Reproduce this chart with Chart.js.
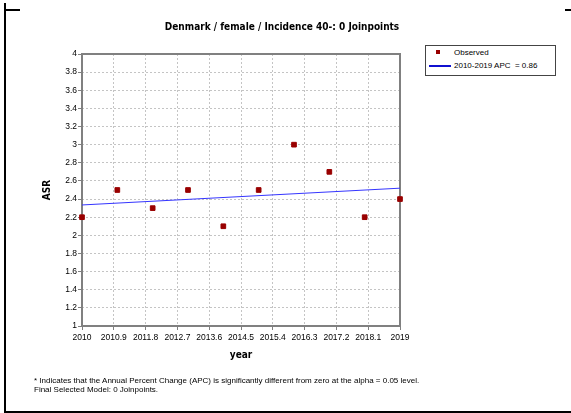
<!DOCTYPE html>
<html>
<head>
<meta charset="utf-8">
<script src="https://cdn.jsdelivr.net/npm/chart.js@4.4.1/dist/chart.umd.min.js"></script>
<style>
  body { margin: 0; background: #fff; }
  #wrap { position: relative; width: 571px; height: 413px; overflow: hidden; font-family: "Liberation Sans", Arial, sans-serif; }
  #chart { position: absolute; left: 0; top: 0; }
  .rule { position: absolute; background: #000; }
  #title { position: absolute; left: 182px; width: 200px; top: 21px; text-align: center; white-space: nowrap; display: flex; justify-content: center;
           font: bold 10px "DejaVu Sans Condensed", "DejaVu Sans", sans-serif; color: #000; }
  #legend { position: absolute; left: 425px; top: 45px; width: 129px; height: 29px; border: 1px solid #444; background: #fff; font-size: 8px; color: #000; }
  #legend .mark { position: absolute; left: 10px; top: 4px; width: 4px; height: 4px; background: #990000; }
  #legend .line { position: absolute; left: 3px; top: 19px; width: 22px; height: 2px; background: #1010d0; }
  #legend .txt { position: absolute; left: 28px; white-space: pre; line-height: 10px; }
  #note { position: absolute; left: 34px; top: 376px; font-size: 8px; line-height: 9px; color: #000; }
</style>
</head>
<body>
<div id="wrap">
  <canvas id="chart" width="571" height="413"></canvas>
  <div class="rule" style="left:4px;top:3px;width:2px;height:410px"></div>
  <div class="rule" style="left:5px;top:9px;width:15px;height:2px"></div>
  <div class="rule" style="left:565px;top:9px;width:6px;height:2px"></div>
  <div class="rule" style="left:4px;top:411px;width:567px;height:2px"></div>
  <div id="title">Denmark / female / Incidence 40-: 0 Joinpoints</div>
  <div id="legend">
    <div class="mark"></div><div class="txt" style="top:2px">Observed</div>
    <div class="line"></div><div class="txt" style="top:15px">2010-2019 APC  = 0.86</div>
  </div>
  <div id="note">* Indicates that the Annual Percent Change (APC) is significantly different from zero at the alpha = 0.05 level.<br>Final Selected Model: 0 Joinpoints.</div>
</div>
<script>
const years = [2010, 2011, 2012, 2013, 2014, 2015, 2016, 2017, 2018, 2019];
const observed = [2.2, 2.5, 2.3, 2.5, 2.1, 2.5, 3.0, 2.7, 2.2, 2.4];
const fitYears = [2010, 2019];
const fitValues = [2.335, 2.52]; // APC 0.86
const xTickLabels = ['2010', '2010.9', '2011.8', '2012.7', '2013.6', '2014.5', '2015.4', '2016.3', '2017.2', '2018.1', '2019'];
const yTickLabels = ['1', '1.2', '1.4', '1.6', '1.8', '2', '2.2', '2.4', '2.6', '2.8', '3', '3.2', '3.4', '3.6', '3.8', '4'];

const tickFont = { family: '"Liberation Sans", Arial, sans-serif', size: 8.5 };
const boldFont = { family: '"DejaVu Sans Condensed", "DejaVu Sans", sans-serif', size: 10, weight: 'bold' };

// grey box around the plot area
const plotBox = {
  id: 'plotBox',
  beforeDatasetsDraw(chart) {
    const a = chart.chartArea, c = chart.ctx;
    c.save();
    c.strokeStyle = '#808080';
    c.lineWidth = 2;
    c.strokeRect(a.left, a.top, a.right - a.left, a.bottom - a.top);
    c.restore();
  }
};

const ctx = document.getElementById('chart').getContext('2d');

new Chart(ctx, {
  type: 'scatter',
  data: {
    datasets: [{
      label: 'Observed',
      data: years.map((y, i) => ({ x: y, y: observed[i] })),
      backgroundColor: '#990000',
      borderColor: '#990000',
      pointStyle: 'rect',
      pointRadius: 3.3,
      clip: false
    }, {
      type: 'line',
      label: '2010-2019 APC = 0.86',
      data: fitYears.map((y, i) => ({ x: y, y: fitValues[i] })),
      borderColor: '#3535ff',
      borderWidth: 1,
      pointRadius: 0,
      fill: false
    }]
  },
  options: {
    responsive: false,
    animation: false,
    layout: { autoPadding: false, padding: { left: 0, right: 171, top: 54, bottom: 47 } },
    scales: {
      x: {
        type: 'linear',
        min: 2010,
        max: 2019,
        afterBuildTicks: s => { s.ticks = xTickLabels.map(t => ({ value: Number(t) })); },
        afterFit: s => { s.height = 40; },
        ticks: {
          font: tickFont,
          color: '#000',
          padding: 3,
          maxRotation: 0,
          autoSkip: false,
          callback: (v, i) => xTickLabels[i]
        },
        grid: { color: '#c4c4c4', tickColor: '#808080', tickLength: 4 },
        border: { display: false, dash: [2, 2] },
        title: { display: true, text: 'year', font: boldFont, color: '#000', padding: { top: 0, bottom: 5 } }
      },
      y: {
        min: 1,
        max: 4,
        afterBuildTicks: s => { s.ticks = yTickLabels.map(t => ({ value: Number(t) })); },
        afterFit: s => { s.width = 82; },
        ticks: {
          font: tickFont,
          color: '#000',
          padding: 1,
          autoSkip: false,
          callback: (v, i) => yTickLabels[i]
        },
        grid: { color: '#c4c4c4', tickColor: '#808080', tickLength: 4 },
        border: { display: false, dash: [2, 2] },
        title: { display: true, text: 'ASR', font: boldFont, color: '#000', padding: { top: 41, bottom: 0 } }
      }
    },
    plugins: {
      legend: { display: false },
      tooltip: { enabled: false },
      title: { display: false }
    }
  },
  plugins: [plotBox]
});
</script>
</body>
</html>
